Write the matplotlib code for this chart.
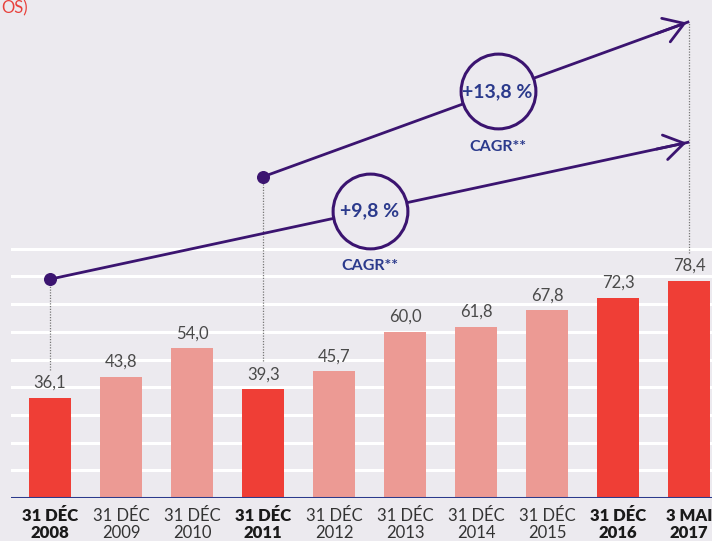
import matplotlib.pyplot as plt

categories = ['31 DÉC\n2008', '31 DÉC\n2009', '31 DÉC\n2010', '31 DÉC\n2011', '31 DÉC\n2012',
              '31 DÉC\n2013', '31 DÉC\n2014', '31 DÉC\n2015', '31 DÉC\n2016', '3 MAI\n2017']
values = [36.1, 43.8, 54.0, 39.3, 45.7, 60.0, 61.8, 67.8, 72.3, 78.4]
highlight = [True, False, False, True, False, False, False, False, True, True]

# CAGR annotations: start bar, start level, end level, text
cagr_start = [0, 3]
cagr_y0 = [79, 116]
cagr_y1 = [128.5, 172]
cagr_text = ['+9,8 %', '+13,8 %']
cagr_pos = [0.5, 0.55]

BG = '#ECEAEF'
DARK = '#EF3E36'
LIGHT = '#EC9A94'
PURPLE = '#3B1470'
NAVY = '#2B3A8C'

fig = plt.figure(figsize=(7.12, 5.41), dpi=100, facecolor=BG)
ax = fig.add_axes([11/712, 43/541, 701/712, 498/541])
ax.set_facecolor(BG)
ax.set_xlim(-0.55, 9.32)
ax.set_ylim(0, 179.8)
for s in ax.spines.values():
    s.set_visible(False)
ax.tick_params(length=0)
ax.set_yticks([])

for g in range(10, 100, 10):
    ax.axhline(g, color='white', lw=2.2, zorder=0)
ax.axhline(0, color=NAVY, lw=2.2, zorder=3)

x = list(range(len(values)))
colors = [DARK if h else LIGHT for h in highlight]
ax.bar(x, values, width=0.59, color=colors, zorder=2)

for xi, v in zip(x, values):
    ax.annotate(f'{v:.1f}'.replace('.', ','), (xi, v), xytext=(0, 5),
                textcoords='offset points', ha='center', va='bottom',
                fontsize=12, color='#4a4a4a', family='Lato')

ax.set_xticks(x)
ax.set_xticklabels(categories, fontsize=12, color='#333333', family='Lato', linespacing=1.1)
for lab, h in zip(ax.get_xticklabels(), highlight):
    lab.set_fontweight('heavy' if h else 'normal')
    if h:
        lab.set_color('#1a1a1a')
ax.tick_params(axis='x', pad=7)

xend = len(values) - 1
label_top = {i: values[i] + 10 for i in x}
for i0, y0, y1, txt, f in zip(cagr_start, cagr_y0, cagr_y1, cagr_text, cagr_pos):
    ax.plot([i0, i0], [label_top[i0], y0], ls=(0, (1, 1.2)), color='#777777', lw=0.9, zorder=1)
    ax.plot([i0, xend], [y0, y1], color=PURPLE, lw=2, zorder=4, solid_capstyle='butt')
    ax.scatter([i0], [y0], s=70, color=PURPLE, zorder=5)
    ax.annotate('', xy=(xend, y1), xytext=(xend - 0.5, y1 - (y1 - y0) / (xend - i0) * 0.5),
                arrowprops=dict(arrowstyle='->,head_length=0.7,head_width=0.45',
                                color=PURPLE, lw=2, mutation_scale=20), zorder=5)
    cx = i0 + f * (xend - i0)
    cy = y0 + f * (y1 - y0)
    ax.scatter([cx], [cy], s=2900, facecolor=BG, edgecolor=PURPLE, lw=2.2, zorder=6)
    ax.text(cx, cy, txt, ha='center', va='center', fontsize=14, fontweight='bold',
            color=NAVY, family='Lato', zorder=7)
    ax.annotate('CAGR**', (cx, cy), xytext=(0, -40), textcoords='offset points',
                ha='center', va='center', fontsize=11.5, fontweight='bold',
                color=NAVY, family='Lato', zorder=7)

ax.plot([xend, xend], [label_top[xend], max(cagr_y1)], ls=(0, (1, 1.2)),
        color='#777777', lw=0.9, zorder=1)

fig.text(1/712, 1 - 8/541, "OS)", ha='left', va='center',
         fontsize=12, color='#E8413C', family='Lato')

fig.savefig('out.png', dpi=100, facecolor=BG)
